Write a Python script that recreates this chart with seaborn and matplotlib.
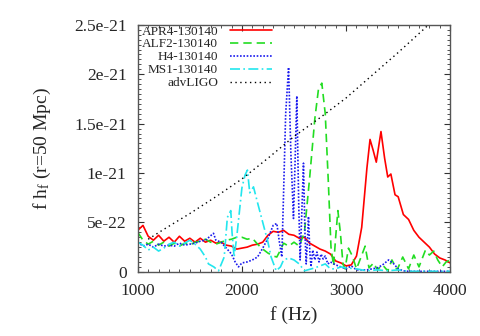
import numpy as np
import pandas as pd
import matplotlib
matplotlib.use('Agg')
import matplotlib.pyplot as plt
from matplotlib.ticker import MultipleLocator, FuncFormatter
import seaborn as sns

# values, amplitude in units of 1e-22
f_apr4 = [1000, 1050, 1100, 1150, 1200, 1250, 1300, 1350, 1400, 1450, 1500, 1550, 1600,
          1650, 1700, 1750, 1800, 1850, 1900, 1950, 2000, 2050, 2100, 2150, 2200, 2250,
          2300, 2350, 2400, 2450, 2500, 2550, 2600, 2650, 2700, 2750, 2800, 2850, 2900,
          2950, 3000, 3050, 3100, 3150, 3200, 3230, 3260, 3290, 3335, 3370, 3400, 3430,
          3470, 3500, 3550, 3600, 3650, 3700, 3750, 3800, 3850, 3900, 3950, 4000]
h_apr4 = [4.2, 4.7, 3.6, 3.2, 3.7, 3.1, 3.5, 3.0, 3.6, 3.1, 3.4, 3.0, 3.4,
          3.0, 3.2, 2.9, 3.0, 2.7, 2.6, 2.3, 2.4, 2.5, 2.7, 2.8, 3.0, 3.7,
          4.1, 4.0, 4.2, 3.8, 3.7, 3.4, 3.5, 2.9, 2.6, 2.3, 2.1, 1.8, 1.1,
          0.9, 0.6, 0.7, 1.6, 4.5, 10.5, 13.4, 12.3, 11.1, 14.2, 11.5, 9.6, 9.9,
          7.8, 7.6, 5.8, 5.3, 4.2, 3.5, 3.0, 2.5, 1.8, 1.4, 1.2, 0.9]

f_alf2 = [1000, 1050, 1100, 1150, 1200, 1250, 1300, 1350, 1400, 1450, 1500, 1550, 1600,
          1650, 1700, 1750, 1800, 1850, 1900, 1950, 2000, 2050, 2100, 2150, 2200, 2250,
          2300, 2335, 2370, 2400, 2450, 2500, 2550, 2600, 2650, 2700, 2735, 2767, 2800,
          2830, 2855, 2880, 2900, 2921, 2945, 2970, 2990, 3023, 3060, 3100, 3140, 3183,
          3220, 3265, 3300, 3350, 3400, 3440, 3490, 3544, 3600, 3650, 3700, 3762, 3800,
          3842, 3880, 3923, 3960, 4000]
h_alf2 = [4.0, 3.2, 2.8, 3.1, 2.7, 3.0, 2.6, 2.9, 2.6, 2.9, 2.7, 3.0, 3.1,
          3.3, 3.0, 2.8, 3.0, 3.2, 3.3, 3.5, 3.5, 3.3, 3.4, 2.8, 2.3, 1.9,
          1.6, 1.5, 2.2, 2.9, 2.6, 3.0, 2.6, 4.0, 9.5, 15.5, 18.5, 19.1, 16.0,
          9.0, 2.5, 0.6, 3.5, 6.2, 4.0, 0.8, 0.3, 2.4, 1.6, 0.3, 1.4, 2.6,
          0.4, 0.9, 0.2, 0.7, 0.1, 1.2, 0.2, 1.5, 0.3, 1.7, 0.5, 2.2, 1.7,
          2.1, 1.2, 0.5, 1.0, 1.2]

f_h4 = [1000, 1050, 1100, 1150, 1200, 1250, 1300, 1350, 1400, 1450, 1500, 1550, 1600,
        1650, 1727, 1750, 1800, 1850, 1900, 1935, 1967, 2000, 2050, 2100, 2150, 2200,
        2250, 2300, 2335, 2360, 2383, 2400, 2420, 2448, 2470, 2495, 2510, 2527, 2545,
        2559, 2575, 2591, 2605, 2617, 2628, 2639, 2652, 2663, 2680, 2700, 2720, 2740,
        2760, 2780, 2800, 2825, 2850, 2900, 2950, 3000, 3050, 3100, 3200, 3300, 3350,
        3408, 3450, 3500, 3550, 3600, 3700, 3800, 3900, 4000]
h_h4 = [3.0, 2.6, 2.8, 2.5, 2.8, 2.6, 2.7, 2.6, 2.9, 2.7, 2.8, 2.9, 3.1,
        3.2, 3.9, 3.2, 3.0, 2.4, 1.8, 1.0, 0.5, 0.9, 1.0, 1.2, 1.5, 2.4,
        3.4, 4.7, 4.9, 3.0, 1.5, 8.0, 16.0, 20.7, 12.0, 5.4, 11.0, 17.8, 7.0,
        1.2, 6.0, 11.0, 4.0, 0.8, 3.0, 5.6, 2.0, 0.5, 2.2, 1.2, 2.0, 1.0,
        1.8, 1.3, 1.6, 0.8, 1.0, 0.7, 0.5, 0.3, 0.6, 0.2, 0.2, 0.4, 0.7,
        1.2, 0.9, 0.3, 0.1, 0.05, 0.05, 0.05, 0.05, 0.05]

f_ms1 = [1000, 1050, 1100, 1150, 1200, 1250, 1300, 1350, 1400, 1450, 1500, 1550, 1600,
         1650, 1679, 1730, 1775, 1830, 1860, 1893, 1905, 1925, 1950, 2000, 2030, 2053,
         2075, 2111, 2150, 2200, 2250, 2280, 2329, 2370, 2400, 2450, 2500, 2550, 2600,
         2700, 2750, 2800, 2850, 2900, 2950, 3000, 3100, 3200, 3300, 3400, 3500, 3600,
         3700, 3800, 3900, 4000]
h_ms1 = [3.0, 2.7, 2.2, 2.5, 2.1, 2.4, 2.8, 3.0, 2.6, 2.9, 3.2, 2.8, 2.3,
         1.5, 0.8, 0.5, 0.1, 1.5, 5.5, 6.2, 4.0, 1.5, 3.5, 8.5, 9.8, 10.3,
         8.0, 8.6, 7.0, 5.0, 3.0, 1.5, 0.1, 0.5, 1.2, 1.4, 1.2, 0.8, 0.1,
         0.4, 0.6, 0.8, 0.3, 0.3, 0.5, 0.4, 0.3, 0.1, 0.2, 0.1, 0.2, 0.05,
         0.05, 0.05, 0.05, 0.05]

f_ligo = [1100, 1250, 1500, 1750, 2000, 2250, 2500, 2750, 3000, 3250, 3500, 3750, 3800]
h_ligo = [3.3, 4.3, 5.9, 7.6, 9.4, 11.5, 13.7, 15.6, 17.6, 19.9, 22.2, 24.6, 25.1]

labels = ['APR4-130140', 'ALF2-130140', 'H4-130140', 'MS1-130140', 'advLIGO']

sns.set_style('ticks')
plt.rcParams['font.family'] = ['Liberation Serif', 'DejaVu Serif']
plt.rcParams['mathtext.fontset'] = 'custom'
plt.rcParams['mathtext.rm'] = 'Liberation Serif'
plt.rcParams['mathtext.it'] = 'Liberation Serif:italic'

fig = plt.figure(figsize=(4.8, 3.36), dpi=100)
ax = fig.add_axes([0.287, 0.191, 0.651, 0.735])

series = [(f_apr4, h_apr4, '#ff0000', '-'),
          (f_alf2, h_alf2, '#22dd22', (0, (5, 3))),
          (f_h4, h_h4, '#1a1aee', (0, (1, 1))),
          (f_ms1, h_ms1, '#22e6ee', (0, (6, 2, 1, 2))),
          (f_ligo, h_ligo, '#000000', (0, (1, 2.5)))]

for (f, h, col, ls), lab in zip(series, labels):
    df = pd.DataFrame({'f': f, 'h': np.array(h) * 1e-22})
    lw = 1.0 if lab == 'advLIGO' else 1.2
    sns.lineplot(data=df, x='f', y='h', ax=ax, color=col, linestyle=ls,
                 linewidth=lw, label=lab, estimator=None, sort=False)

ax.set_xlim(1000, 4000)
ax.set_ylim(0, 2.5e-21)
ax.xaxis.set_major_locator(MultipleLocator(1000))
ax.xaxis.set_minor_locator(MultipleLocator(100))
ax.yaxis.set_major_locator(MultipleLocator(5e-22))
ax.yaxis.set_minor_locator(MultipleLocator(5e-23))
ax.yaxis.set_major_formatter(FuncFormatter(lambda v, p: '%g' % v))

ax.tick_params(which='both', direction='in', top=True, right=True, labelsize=12.5, color='#333333')
ax.tick_params(which='major', length=4, width=0.8, pad=8)
ax.tick_params(which='minor', length=2, width=0.6)
for s in ax.spines.values():
    s.set_color('#555555')
    s.set_linewidth(1.0)

ax.set_xlabel('f (Hz)', fontsize=14, labelpad=5)
ax.set_ylabel(r'f h$_{\rm f}$ (r=50 Mpc)', fontsize=14, labelpad=15)

leg = ax.legend(loc='upper right', markerfirst=False, frameon=False, fontsize=9.5,
                handlelength=3.2, handletextpad=0.9, labelspacing=0.05,
                borderaxespad=0.0, borderpad=0.0, bbox_to_anchor=(0.43, 0.998))

fig.savefig('out.png', dpi=100)
